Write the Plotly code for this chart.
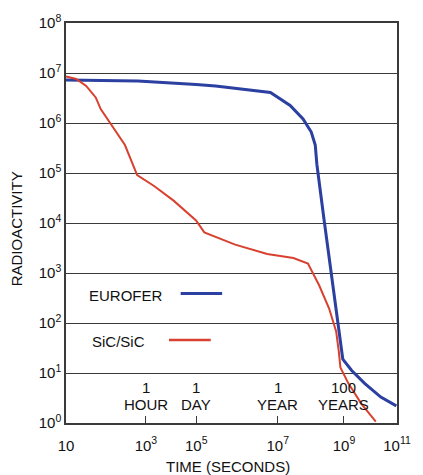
import math
import plotly.graph_objects as go

# EUROFER curve (time in seconds, radioactivity)
eurofer_t = [10, 1.48e3, 8.5e4, 3.3e5, 1.5e7, 5.9e7, 1.45e8, 2.57e8, 3.39e8, 3.8e8,
             6.3e8, 9.8e8, 1.55e9, 2.3e9, 4.27e9, 1.05e10, 3.24e10, 9.55e10]
eurofer_a = [7.24e6, 6.92e6, 5.89e6, 5.5e6, 4.07e6, 2.24e6, 1.2e6, 6.6e5, 3.63e5, 1.48e5,
             1.12e4, 1.17e3, 112, 19, 11.2, 6.2, 3.3, 2.2]

# SiC/SiC curve
sic_t = [10, 20.4, 40.7, 79, 112, 195, 603, 1.41e3, 4.57e3, 1.78e4, 8.5e4, 1.51e5,
         1.29e6, 1.2e7, 7.4e7, 2.04e8, 4.47e8, 8.9e8, 1.45e9, 1.74e9, 1.95e9,
         3.39e9, 8.3e9, 2.29e10]
sic_a = [8.5e6, 7.6e6, 5.5e6, 3.24e6, 1.9e6, 1.12e6, 3.63e5, 9.1e4, 5.5e4, 2.8e4,
         1.12e4, 6.5e3, 3.7e3, 2.4e3, 2.0e3, 1.55e3, 562, 195, 68, 27.5, 12.9,
         6.2, 2.45, 1.07]

# axis ticks
x_tick_vals = [10, 2.6e3, 8.6e4, 2.5e7, 2.5e9, 1e11]
x_tick_text = ["10", "10<sup>3</sup>", "10<sup>5</sup>", "10<sup>7</sup>",
               "10<sup>9</sup>", "10<sup>11</sup>"]
y_tick_vals = [1, 10, 100, 1e3, 1e4, 1e5, 1e6, 1e7, 1e8]
y_tick_text = ["10<sup>%d</sup>" % i for i in range(9)]

# time period labels (count line, unit line)
period_counts = ["1", "1", "1", "100"]
period_units = ["HOUR", "DAY", "YEAR", "YEARS"]
period_pos = [2.6e3, 8.6e4, 2.5e7, 2.5e9]

series_names = ["EUROFER", "SiC/SiC"]
BLUE = "#2b40a0"
RED = "#d8412f"
FONT = "Liberation Sans, Arial, sans-serif"
AX = "#3a3a3a"

fig = go.Figure()
fig.add_trace(go.Scatter(x=eurofer_t, y=eurofer_a, mode="lines", name=series_names[0],
                         line=dict(color=BLUE, width=3)))
fig.add_trace(go.Scatter(x=sic_t, y=sic_a, mode="lines", name=series_names[1],
                         line=dict(color=RED, width=2)))

fig.update_layout(
    width=423, height=475,
    margin=dict(l=66, r=16, t=16, b=52),
    paper_bgcolor="white", plot_bgcolor="white",
    showlegend=False,
    font=dict(family=FONT, size=15, color="#111"),
    xaxis=dict(type="log", range=[1, 11], showgrid=False, zeroline=False,
               tickmode="array", tickvals=x_tick_vals, ticktext=x_tick_text,
               ticks="inside", ticklen=7, tickcolor=AX, tickwidth=1,
               ticklabelstandoff=8,
               showline=True, linecolor=AX, linewidth=1.5, mirror=True,
               tickfont=dict(size=15, family=FONT, color="#111")),
    yaxis=dict(type="log", range=[0, 8], showgrid=True, gridcolor=AX, gridwidth=1.2,
               zeroline=False, tickmode="array", tickvals=y_tick_vals, ticktext=y_tick_text,
               ticks="", showline=True, linecolor=AX, linewidth=1.5, mirror=True,
               tickfont=dict(size=15, family=FONT, color="#111")),
)

# axis titles
fig.add_annotation(text="TIME (SECONDS)", xref="paper", yref="paper", x=0.49, y=-0.108,
                   showarrow=False, xanchor="center", yanchor="middle", font=dict(size=15))
fig.add_annotation(text="RADIOACTIVITY", xref="paper", yref="paper", x=-0.15, y=0.485,
                   showarrow=False, textangle=-90, xanchor="center", yanchor="middle",
                   font=dict(size=15))

# period labels
for cnt, unit, pos in zip(period_counts, period_units, period_pos):
    fig.add_annotation(text=cnt, x=math.log10(pos), y=0.09, xref="x", yref="paper",
                       showarrow=False, xanchor="center", yanchor="middle", font=dict(size=15))
    fig.add_annotation(text=unit, x=math.log10(pos), y=0.047, xref="x", yref="paper",
                       showarrow=False, xanchor="center", yanchor="middle", font=dict(size=15))

# legend (text followed by line sample)
fig.add_annotation(text=series_names[0], xref="paper", yref="paper", x=0.1805, y=0.3197,
                   showarrow=False, xanchor="center", yanchor="middle", font=dict(size=15))
fig.add_shape(type="line", xref="paper", yref="paper", x0=0.3464, x1=0.4717,
              y0=0.3238, y1=0.3238, line=dict(color=BLUE, width=3))
fig.add_annotation(text=series_names[1], xref="paper", yref="paper", x=0.1594, y=0.2044,
                   showarrow=False, xanchor="center", yanchor="middle", font=dict(size=15))
fig.add_shape(type="line", xref="paper", yref="paper", x0=0.3111, x1=0.4373,
              y0=0.2076, y1=0.2076, line=dict(color=RED, width=2.5))

fig.write_html("out.html")
